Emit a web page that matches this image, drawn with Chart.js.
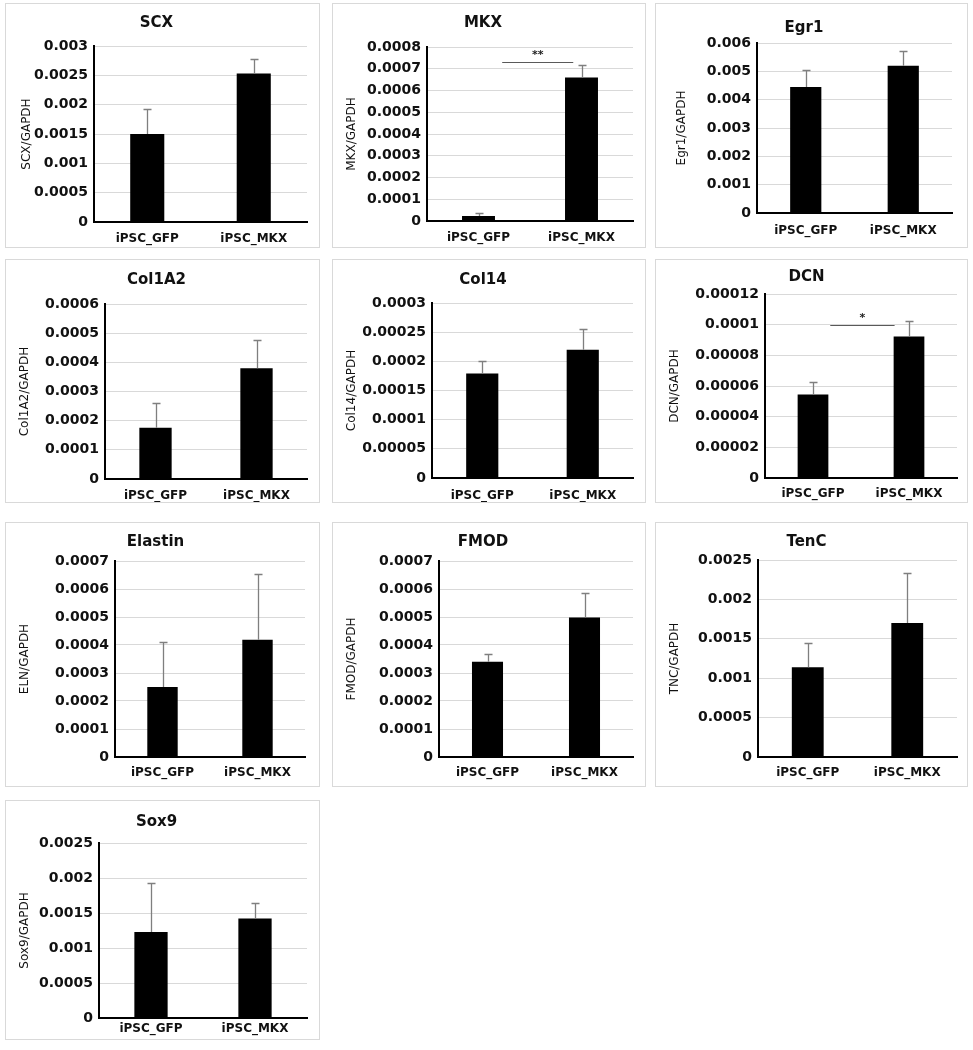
<!DOCTYPE html>
<html>
<head>
<meta charset="utf-8">
<title>iPSC_GFP vs iPSC_MKX</title>
<script src="https://cdn.jsdelivr.net/npm/chart.js@4.4.1/dist/chart.umd.min.js"></script>
<style>
  html, body { margin: 0; padding: 0; background: #fff; }
  body { width: 973px; height: 1050px; position: relative; overflow: hidden; }
  .panel { position: absolute; box-sizing: border-box; border: 1px solid #d9d9d9; background: #fff; }
  .panel canvas { display: block; }
</style>
</head>
<body>
<script>
// data
const groups = ['iPSC_GFP', 'iPSC_MKX'];
const genes = ['SCX', 'MKX', 'Egr1', 'Col1A2', 'Col14', 'DCN', 'Elastin', 'FMOD', 'TenC', 'Sox9'];
const yTitles = ['SCX/GAPDH', 'MKX/GAPDH', 'Egr1/GAPDH', 'Col1A2/GAPDH', 'Col14/GAPDH',
                 'DCN/GAPDH', 'ELN/GAPDH', 'FMOD/GAPDH', 'TNC/GAPDH', 'Sox9/GAPDH'];
const gfpMean = [0.0015, 0.000023, 0.00445, 0.000176, 0.000179, 0.0000545, 0.00025, 0.00034, 0.00114, 0.00123];
const gfpSd   = [0.00043, 0.000014, 0.00061, 0.000085, 0.000021, 0.0000081, 0.00016, 0.000027, 0.00031, 0.0007];
const mkxMean = [0.00253, 0.00066, 0.0052, 0.00038, 0.00022, 0.0000923, 0.000419, 0.000498, 0.0017, 0.00142];
const mkxSd   = [0.00025, 0.000055, 0.00051, 0.000098, 0.000036, 0.0000102, 0.000236, 0.000089, 0.00063, 0.00022];
const yMax  = [0.003, 0.0008, 0.006, 0.0006, 0.0003, 0.00012, 0.0007, 0.0007, 0.0025, 0.0025];
const yStep = [0.0005, 0.0001, 0.001, 0.0001, 0.00005, 0.00002, 0.0001, 0.0001, 0.0005, 0.0005];
const sigMarks = ['', '**', '', '', '', '*', '', '', '', ''];
const sigLevel = [null, 0.00073, null, null, null, 0.0001, null, null, null, null];

// layout of each panel on the page (px)
const panels = [
  { box: [5, 3, 315, 245],   axisX: 94,  topY: 46,  zeroY: 222,  rightX: 307, titleY: 23,  yTitleX: 27,  labelY: 239 },
  { box: [332, 3, 314, 245], axisX: 427, topY: 47,  zeroY: 221,  rightX: 633, titleY: 23,  yTitleX: 352, labelY: 238, sig: [0.23, 0.92] },
  { box: [655, 3, 313, 245], axisX: 757, topY: 43,  zeroY: 213,  rightX: 952, titleY: 28,  yTitleX: 682, labelY: 231 },
  { box: [5, 259, 315, 244], axisX: 105, topY: 304, zeroY: 479,  rightX: 307, titleY: 280, yTitleX: 25,  labelY: 496 },
  { box: [332, 259, 314, 244], axisX: 432, topY: 303, zeroY: 478, rightX: 633, titleY: 280, yTitleX: 352, labelY: 496 },
  { box: [655, 259, 313, 244], axisX: 765, topY: 294, zeroY: 478, rightX: 957, titleY: 277, yTitleX: 675, labelY: 494, sig: [0.18, 0.85] },
  { box: [5, 522, 315, 265], axisX: 115, topY: 561, zeroY: 757,  rightX: 305, titleY: 542, yTitleX: 25,  labelY: 773 },
  { box: [332, 522, 314, 265], axisX: 439, topY: 561, zeroY: 757, rightX: 633, titleY: 542, yTitleX: 352, labelY: 773 },
  { box: [655, 522, 313, 265], axisX: 758, topY: 560, zeroY: 757, rightX: 957, titleY: 542, yTitleX: 675, labelY: 773 },
  { box: [5, 800, 315, 240], axisX: 99,  topY: 843, zeroY: 1018, rightX: 307, titleY: 822, yTitleX: 25,  labelY: 1029 }
];

const FONT = 'DejaVu Sans';
const TITLE_LH = 15 * 1.2;
const AXIS_LH = 12 * 1.2;

// upper error bars + significance bracket
const extras = {
  id: 'extras',
  afterDatasetsDraw(chart) {
    const i = chart.options.plugins.extras.panel;
    const { ctx, scales: { x, y } } = chart;
    const means = [gfpMean[i], mkxMean[i]];
    const sds = [gfpSd[i], mkxSd[i]];
    ctx.save();
    ctx.strokeStyle = '#7f7f7f';
    ctx.lineWidth = 1.3;
    means.forEach((m, k) => {
      const px = Math.round(x.getPixelForValue(k)) + 0.5;
      const y0 = y.getPixelForValue(m);
      const y1 = Math.round(y.getPixelForValue(m + sds[k])) + 0.5;
      ctx.beginPath();
      ctx.moveTo(px, y0);
      ctx.lineTo(px, y1);
      ctx.moveTo(px - 4, y1);
      ctx.lineTo(px + 4, y1);
      ctx.stroke();
    });
    if (sigMarks[i]) {
      const [a, b] = panels[i].sig;
      const x0 = x.getPixelForValue(a), x1 = x.getPixelForValue(b);
      const ly = Math.round(y.getPixelForValue(sigLevel[i])) + 0.5;
      ctx.strokeStyle = '#595959';
      ctx.lineWidth = 1;
      ctx.beginPath();
      ctx.moveTo(x0, ly);
      ctx.lineTo(x1, ly);
      ctx.stroke();
      ctx.fillStyle = '#222';
      ctx.font = 'bold 11px ' + FONT;
      ctx.textAlign = 'center';
      ctx.textBaseline = 'middle';
      ctx.fillText(sigMarks[i], (x0 + x1) / 2, ly - 7);
    }
    ctx.restore();
  }
};

const fmt = v => Number(Number(v).toFixed(7)).toString();

genes.forEach((gene, i) => {
  const p = panels[i];
  const [bx, by, bw, bh] = p.box;
  const cLeft = bx + 1, cTop = by + 1, cRight = bx + bw - 1, cBottom = by + bh - 1;

  const div = document.createElement('div');
  div.className = 'panel';
  div.style.left = bx + 'px';
  div.style.top = by + 'px';
  div.style.width = bw + 'px';
  div.style.height = bh + 'px';
  const canvas = document.createElement('canvas');
  div.appendChild(canvas);
  document.body.appendChild(div);

  const titleTop = p.titleY - cTop - TITLE_LH / 2;
  const titleBottom = p.topY - cTop - TITLE_LH - titleTop;

  new Chart(canvas, {
    type: 'bar',
    data: {
      labels: groups,
      datasets: [{
        data: [gfpMean[i], mkxMean[i]],
        backgroundColor: '#000',
        borderWidth: 0,
        barPercentage: 0.32,
        categoryPercentage: 1
      }]
    },
    options: {
      responsive: true,
      maintainAspectRatio: false,
      animation: false,
      layout: { padding: { left: 0, right: cRight - p.rightX, top: 0, bottom: 0 } },
      plugins: {
        legend: { display: false },
        tooltip: { enabled: false },
        title: {
          display: true,
          text: gene,
          color: '#111',
          font: { family: FONT, size: 15, weight: 'bold' },
          padding: { top: titleTop, bottom: titleBottom }
        },
        extras: { panel: i }
      },
      scales: {
        x: {
          grid: { display: false, drawTicks: false },
          border: { color: '#000', width: 2 },
          ticks: {
            color: '#111',
            padding: p.labelY - p.zeroY - AXIS_LH / 2,
            font: { family: FONT, size: 12, weight: 'bold' }
          },
          afterFit: s => { s.height = cBottom - p.zeroY; }
        },
        y: {
          min: 0,
          max: yMax[i],
          grid: { color: '#d9d9d9', lineWidth: 1, drawTicks: false },
          border: { color: '#000', width: 2 },
          ticks: {
            stepSize: yStep[i],
            color: '#111',
            padding: 6,
            font: { family: FONT, size: 14, weight: 'bold' },
            callback: v => fmt(v)
          },
          title: {
            display: true,
            text: yTitles[i],
            color: '#111',
            font: { family: FONT, size: 12 },
            padding: { top: p.yTitleX - cLeft - AXIS_LH / 2, bottom: 0 }
          },
          afterFit: s => { s.width = p.axisX - cLeft; }
        }
      }
    },
    plugins: [extras]
  });
});
</script>
</body>
</html>
